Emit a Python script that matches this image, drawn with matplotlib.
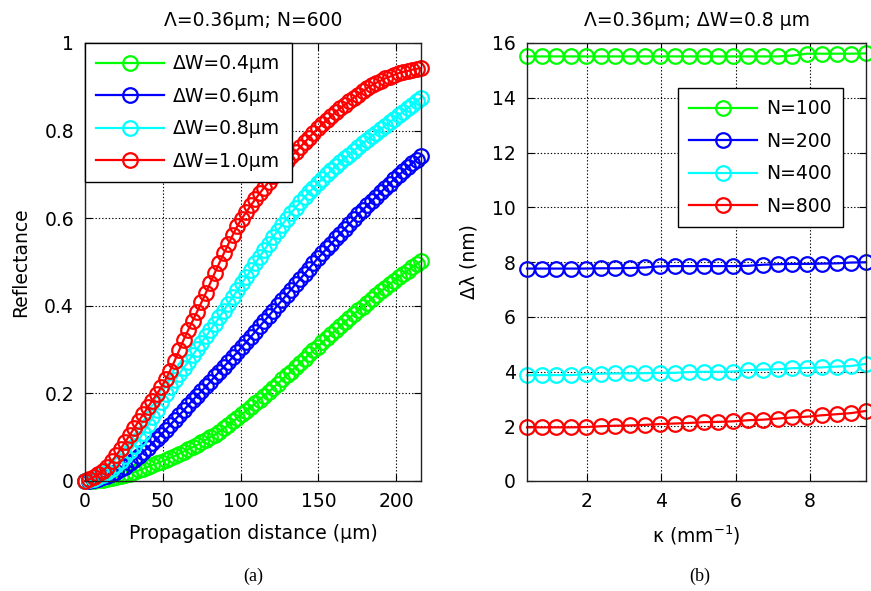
import matplotlib
matplotlib.use("Agg")
import matplotlib.pyplot as plt

plt.rcParams['font.family'] = ['DejaVu Sans']
plt.rcParams['mathtext.fontset'] = 'dejavusans'

# ---------------- data (a) ----------------
distance = [0.0, 2.88, 5.76, 8.64, 11.52, 14.4, 17.28, 20.16, 23.04, 25.92, 28.8, 31.68,
            34.56, 37.44, 40.32, 43.2, 46.08, 48.96, 51.84, 54.72, 57.6, 60.48, 63.36,
            66.24, 69.12, 72.0, 74.88, 77.76, 80.64, 83.52, 86.4, 89.28, 92.16, 95.04,
            97.92, 100.8, 103.68, 106.56, 109.44, 112.32, 115.2, 118.08, 120.96, 123.84,
            126.72, 129.6, 132.48, 135.36, 138.24, 141.12, 144.0, 146.88, 149.76, 152.64,
            155.52, 158.4, 161.28, 164.16, 167.04, 169.92, 172.8, 175.68, 178.56, 181.44,
            184.32, 187.2, 190.08, 192.96, 195.84, 198.72, 201.6, 204.48, 207.36, 210.24,
            213.12, 216.0]

refl_dw04 = [0.0, 0.0005, 0.001, 0.002, 0.003, 0.005, 0.007, 0.009, 0.011, 0.014, 0.017, 0.02,
             0.024, 0.028, 0.032, 0.036, 0.04, 0.044, 0.048, 0.053, 0.057, 0.062, 0.067,
             0.072, 0.077, 0.082, 0.088, 0.094, 0.1, 0.106, 0.113, 0.12, 0.128, 0.136,
             0.144, 0.152, 0.16, 0.169, 0.177, 0.186, 0.195, 0.204, 0.213, 0.222,
             0.232, 0.241, 0.25, 0.26, 0.269, 0.279, 0.289, 0.298, 0.307, 0.317,
             0.326, 0.335, 0.345, 0.354, 0.363, 0.372, 0.381, 0.39, 0.398, 0.407,
             0.416, 0.424, 0.433, 0.441, 0.449, 0.457, 0.465, 0.473, 0.48, 0.488,
             0.495, 0.502]

refl_dw06 = [0.0, 0.001, 0.003, 0.005, 0.008, 0.012, 0.016, 0.021, 0.027, 0.033, 0.04, 0.048,
             0.057, 0.066, 0.076, 0.086, 0.096, 0.106, 0.117, 0.128, 0.139, 0.15, 0.161,
             0.173, 0.184, 0.195, 0.205, 0.216, 0.227, 0.239, 0.25, 0.261, 0.272, 0.283,
             0.294, 0.306, 0.317, 0.329, 0.341, 0.353, 0.365, 0.377, 0.389, 0.401,
             0.413, 0.425, 0.437, 0.449, 0.461, 0.473, 0.485, 0.497, 0.509, 0.52,
             0.531, 0.542, 0.554, 0.565, 0.576, 0.587, 0.598, 0.609, 0.619, 0.629,
             0.639, 0.649, 0.659, 0.669, 0.679, 0.689, 0.698, 0.707, 0.716, 0.725,
             0.734, 0.743]

refl_dw08 = [0.0, 0.002, 0.004, 0.008, 0.013, 0.02, 0.027, 0.036, 0.046, 0.057, 0.069, 0.081,
             0.095, 0.11, 0.127, 0.145, 0.163, 0.181, 0.198, 0.214, 0.23, 0.244, 0.258,
             0.272, 0.287, 0.301, 0.316, 0.33, 0.345, 0.359, 0.374, 0.389, 0.405, 0.42,
             0.435, 0.451, 0.466, 0.481, 0.497, 0.512, 0.527, 0.542, 0.557, 0.571,
             0.585, 0.598, 0.612, 0.624, 0.636, 0.648, 0.659, 0.669, 0.68, 0.69,
             0.7, 0.709, 0.719, 0.728, 0.737, 0.745, 0.754, 0.763, 0.771, 0.779,
             0.787, 0.795, 0.803, 0.811, 0.819, 0.827, 0.835, 0.843, 0.851, 0.859,
             0.867, 0.875]

refl_dw10 = [0.0, 0.004, 0.009, 0.015, 0.023, 0.033, 0.045, 0.059, 0.074, 0.09, 0.105, 0.121,
             0.137, 0.152, 0.168, 0.183, 0.198, 0.214, 0.232, 0.252, 0.274, 0.298, 0.322,
             0.344, 0.365, 0.386, 0.408, 0.43, 0.453, 0.476, 0.498, 0.52, 0.541, 0.562,
             0.582, 0.599, 0.614, 0.629, 0.643, 0.657, 0.67, 0.683, 0.696, 0.708,
             0.719, 0.73, 0.741, 0.751, 0.762, 0.773, 0.784, 0.795, 0.805, 0.815,
             0.824, 0.833, 0.843, 0.851, 0.859, 0.867, 0.875, 0.882, 0.89, 0.897,
             0.903, 0.909, 0.914, 0.919, 0.923, 0.927, 0.931, 0.934, 0.936, 0.939,
             0.941, 0.943]

labels_a = ["ΔW=0.4μm", "ΔW=0.6μm", "ΔW=0.8μm", "ΔW=1.0μm"]

# ---------------- data (b) ----------------
kappa = [0.40, 0.80, 1.19, 1.59, 1.98, 2.38, 2.77, 3.17, 3.57, 3.96, 4.36, 4.75,
         5.15, 5.54, 5.94, 6.33, 6.73, 7.13, 7.52, 7.92, 8.31, 8.71, 9.10, 9.50]

dl_n100 = [15.51, 15.51, 15.51, 15.51, 15.51, 15.51, 15.51, 15.51, 15.51, 15.51, 15.51, 15.51,
           15.51, 15.51, 15.51, 15.51, 15.51, 15.51, 15.54, 15.61, 15.61, 15.61, 15.61, 15.62]
dl_n200 = [7.76, 7.76, 7.76, 7.76, 7.76, 7.77, 7.77, 7.78, 7.80, 7.84, 7.85, 7.85,
           7.85, 7.85, 7.85, 7.86, 7.90, 7.92, 7.93, 7.93, 7.94, 7.95, 7.98, 7.99]
dl_n400 = [3.86, 3.87, 3.87, 3.87, 3.90, 3.92, 3.93, 3.93, 3.94, 3.95, 3.95, 3.98,
           3.99, 3.99, 4.00, 4.05, 4.07, 4.08, 4.12, 4.13, 4.15, 4.18, 4.20, 4.28]
dl_n800 = [1.96, 1.96, 1.96, 1.96, 1.97, 2.00, 2.02, 2.03, 2.05, 2.08, 2.10, 2.12,
           2.15, 2.16, 2.18, 2.22, 2.24, 2.28, 2.32, 2.35, 2.40, 2.44, 2.48, 2.56]

labels_b = ["N=100", "N=200", "N=400", "N=800"]

colors = ["#00ff00", "#0000ff", "#00ffff", "#ff0000"]

fig = plt.figure(figsize=(8.71, 5.91), dpi=100)
W, H = 871, 591
def rect(x0, y0, x1, y1):
    return [x0 / W, 1 - y1 / H, (x1 - x0) / W, (y1 - y0) / H]

axa = fig.add_axes(rect(85, 43, 421, 481))
axb = fig.add_axes(rect(527, 43, 866, 481))

mk = dict(marker='o', markerfacecolor='none', markersize=10.5, markeredgewidth=1.6, linewidth=1.6)

for ys, c, lab in zip([refl_dw04, refl_dw06, refl_dw08, refl_dw10], colors, labels_a):
    axa.plot(distance, ys, color=c, markeredgecolor=c, label=lab, clip_on=False, **mk)

for ys, c, lab in zip([dl_n100, dl_n200, dl_n400, dl_n800], colors, labels_b):
    axb.plot(kappa, ys, color=c, markeredgecolor=c, label=lab, clip_on=False, **mk)

fs = 13.5
for ax in (axa, axb):
    ax.grid(True, linestyle=(0, (1.2, 1.8)), color='black', linewidth=0.8)
    ax.tick_params(direction='in', length=5, width=0.8, labelsize=fs, pad=8,
                   top=True, right=True)
    for s in ax.spines.values():
        s.set_linewidth(1.0)
        s.set_color('#222222')
    ax.set_axisbelow(True)

axa.set_xlim(0, 216)
axa.set_ylim(0, 1)
axa.set_xticks([0, 50, 100, 150, 200])
axa.set_yticks([0, 0.2, 0.4, 0.6, 0.8, 1.0])
axa.set_yticklabels(["0", "0.2", "0.4", "0.6", "0.8", "1"])
axa.set_xlabel("Propagation distance (μm)", fontsize=fs, labelpad=9)
axa.set_ylabel("Reflectance", fontsize=fs, labelpad=10)
axa.set_title("Λ=0.36μm; N=600", fontsize=fs, pad=12)

axb.set_xlim(0.4, 9.5)
axb.set_ylim(0, 16)
axb.set_xticks([2, 4, 6, 8])
axb.set_yticks(range(0, 17, 2))
axb.set_xlabel(r"κ (mm$^{-1}$)", fontsize=fs, labelpad=9)
axb.set_ylabel("Δλ (nm)", fontsize=fs, labelpad=10)
axb.set_title("Λ=0.36μm; ΔW=0.8 μm", fontsize=fs, pad=12)

legkw = dict(fontsize=fs, fancybox=False, framealpha=1, edgecolor='black',
             handlelength=3.6, labelspacing=0.72, borderpad=0.6, handletextpad=0.5,
             borderaxespad=0)
lega = axa.legend(loc='upper left', bbox_to_anchor=(0, 1), **legkw)
lega.get_frame().set_linewidth(1.0)
legb = axb.legend(loc='upper right', bbox_to_anchor=(0.932, 0.897), **legkw)
legb.get_frame().set_linewidth(1.0)

fig.text(253 / W, 1 - 576 / H, "(a)", ha='center', va='center',
         fontsize=13, family=['Liberation Serif', 'DejaVu Serif'])
fig.text(700 / W, 1 - 576 / H, "(b)", ha='center', va='center',
         fontsize=13, family=['Liberation Serif', 'DejaVu Serif'])

fig.savefig("out.png", dpi=100)
